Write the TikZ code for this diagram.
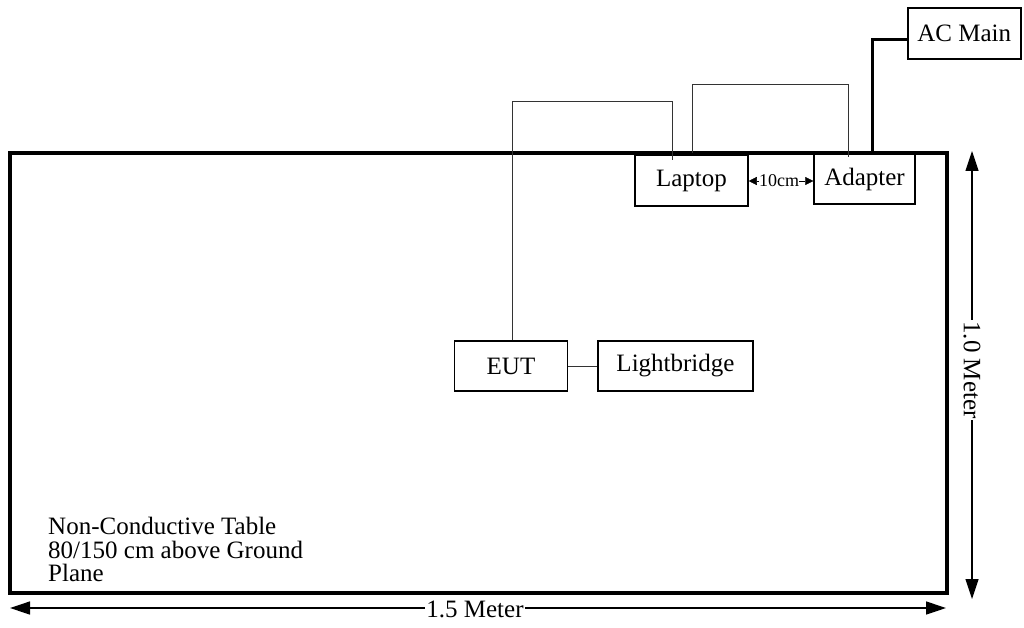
\documentclass[tikz,border=0pt]{standalone}
\usepackage{fontspec}
\setmainfont{Liberation Serif}
\usetikzlibrary{arrows.meta}
\begin{document}
\begin{tikzpicture}[x=1pt,y=-1pt,
  box/.style={draw,line width=1.5pt,inner sep=0pt,font=\fontsize{25}{25}\selectfont},
  wire/.style={line width=1pt,draw=black!80},
  pwire/.style={line width=3pt},
  dim/.style={line width=1.3pt,{Triangle[length=20pt,width=13pt]}-{Triangle[length=20pt,width=13pt]}},
  lbl/.style={font=\fontsize{25}{25}\selectfont,fill=white,inner sep=1pt},
  tip/.style={-{Triangle[length=8pt,width=8pt]},line width=0.4pt}]
\useasboundingbox (0,0) rectangle (1024,628);
% table
\node[draw,line width=3.5pt,minimum width=937pt,minimum height=440pt,inner sep=0pt] (table) at (478.5,373) {};
% boxes
\node[box,minimum width=113pt,minimum height=51pt] (laptop) at (691.5,180.5) {Laptop};
\node[box,minimum width=101pt,minimum height=50pt] (adapter) at (864.5,179) {Adapter};
\node[box,minimum width=113pt,minimum height=51pt,anchor=west] (ac) at (907,33.5) {AC Main};
\node[box,minimum width=113pt,minimum height=50pt] (eut) at (511,366) {EUT};
\node[box,minimum width=155pt,minimum height=50pt] (lb) at (675.5,366) {Lightbridge};
% wires
\coordinate (e1) at (512,102);
\coordinate (e2) at (672,102);
\coordinate (e3) at (672,160);
\draw[wire] (eut.north -| e1) -- (e1) -- (e2) -- (e3);
\coordinate (l1) at (692,153);
\coordinate (l2) at (692,85);
\coordinate (l3) at (848,85);
\coordinate (l4) at (848,157);
\draw[wire] (l1) -- (l2) -- (l3) -- (l4);
\draw[wire] (eut.east) -- (lb.west);
\coordinate (a1) at (872,153);
\coordinate (a2) at (872,40);
\draw[pwire] (a1) -- (a2) -- (ac.west |- a2);
% 10cm
\node[font=\fontsize{18}{18}\selectfont,inner sep=0pt] (ten) at (779,181) {10cm};
\draw[tip] (ten.west) -- (laptop.east |- ten.west);
\draw[tip] (ten.east) -- (adapter.west |- ten.east);
% dimensions
\coordinate (h1) at (10,608);
\coordinate (h2) at (946,608);
\draw[dim] (h1) -- (h2);
\node[lbl] (hl) at (475,609) {1.5 Meter};
\coordinate (v1) at (972,151);
\coordinate (v2) at (972,599);
\draw[dim] (v1) -- (v2);
\node[lbl,rotate=-90] (vl) at (972,370) {1.0 Meter};
% note
\node[anchor=north west,align=left,inner sep=0pt,font=\fontsize{25}{23.5}\selectfont] (note) at (48,517) {Non-Conductive Table\\80/150 cm above Ground\\Plane};
\end{tikzpicture}
\end{document}
